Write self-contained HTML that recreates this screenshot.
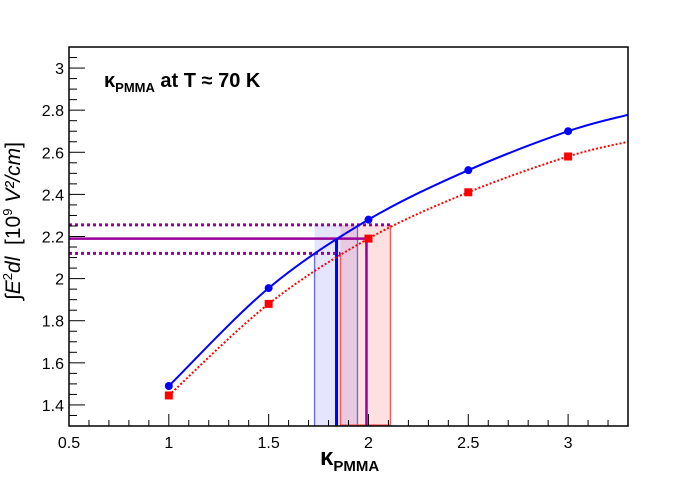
<!DOCTYPE html>
<html><head><meta charset="utf-8"><style>
body{margin:0;background:#fff;}
svg text{font-family:"Liberation Sans",sans-serif;}
</style></head><body>
<svg id="c" width="698" height="475" xmlns="http://www.w3.org/2000/svg"></svg>
<script>
const kappaPoints=[1,1.5,2,2.5,3];
const blueValues=[1.49,1.955,2.28,2.515,2.70];
const redValues=[1.445,1.88,2.19,2.41,2.58];
const curveX=[1,1.5,2,2.5,3,3.3];
const blueCurve=[1.49,1.955,2.28,2.515,2.70,2.778];
const redCurve=[1.445,1.88,2.19,2.41,2.58,2.65];
const measured=[2.12,2.19,2.255];
const blueBand=[1.73,1.84,1.945];
const redBand=[1.86,1.99,2.11];
const xTicks=[0.5,1,1.5,2,2.5,3];
const yTicks=[1.4,1.6,1.8,2,2.2,2.4,2.6,2.8,3];
const X0=69,X1=628,Y0=426,Y1=47,xmin=0.5,xmax=3.3,ymin=1.3,ymax=3.1;
const sx=v=>X0+(v-xmin)/(xmax-xmin)*(X1-X0);
const sy=v=>Y0-(v-ymin)/(ymax-ymin)*(Y0-Y1);
const svg=document.getElementById('c');
function mk(t,a,name){const e=document.createElementNS('http://www.w3.org/2000/svg',t);for(const k in a)e.setAttribute(k,a[k]);


svg.appendChild(e);return e;}
function spline(xs,ys){let p=[];xs.forEach((x,i)=>p.push([sx(x),sy(ys[i])]));let d='M'+p[0][0]+','+p[0][1];
for(let i=0;i<p.length-1;i++){const p0=p[Math.max(0,i-1)],p1=p[i],p2=p[i+1],p3=p[Math.min(p.length-1,i+2)];
d+=' C'+(p1[0]+(p2[0]-p0[0])/6)+','+(p1[1]+(p2[1]-p0[1])/6)+' '+(p2[0]-(p3[0]-p1[0])/6)+','+(p2[1]-(p3[1]-p1[1])/6)+' '+p2[0]+','+p2[1];}return d;}
mk('rect',{x:sx(blueBand[0]),y:sy(measured[2]),width:sx(blueBand[2])-sx(blueBand[0]),height:Y0-sy(measured[2]),fill:'rgba(0,0,255,0.1)',stroke:'none'},'blue-band-fill');
mk('rect',{x:sx(redBand[0]),y:sy(measured[2]),width:sx(redBand[2])-sx(redBand[0]),height:Y0-sy(measured[2]),fill:'rgba(255,0,0,0.12)',stroke:'none'},'red-band-fill');
mk('line',{x1:sx(blueBand[0]),x2:sx(blueBand[0]),y1:Y0,y2:sy(measured[0]),stroke:'#6666ff','stroke-width':1.3},'blue-band-left');
mk('line',{x1:sx(blueBand[2]),x2:sx(blueBand[2]),y1:Y0,y2:sy(measured[2]),stroke:'#6666ff','stroke-width':1.3},'blue-band-right');
mk('line',{x1:sx(redBand[0]),x2:sx(redBand[0]),y1:Y0,y2:sy(measured[0]),stroke:'#ff5555','stroke-width':1.3},'red-band-left');
mk('line',{x1:sx(redBand[2]),x2:sx(redBand[2]),y1:Y0,y2:sy(measured[2]),stroke:'#ff5555','stroke-width':1.3},'red-band-right');
mk('line',{x1:sx(redBand[0]),x2:sx(redBand[2]),y1:Y0-1,y2:Y0-1,stroke:'#ff5555','stroke-width':1.3},'red-band-bottom');
mk('line',{x1:X0,x2:sx(redBand[2]),y1:sy(measured[2]),y2:sy(measured[2]),stroke:'#990099','stroke-width':3,'stroke-dasharray':'3,3'},'upper-limit-line');
mk('line',{x1:X0,x2:sx(redBand[0]),y1:sy(measured[0]),y2:sy(measured[0]),stroke:'#990099','stroke-width':3,'stroke-dasharray':'3,3'},'lower-limit-line');
mk('line',{x1:X0,x2:sx(redBand[1]),y1:sy(measured[1]),y2:sy(measured[1]),stroke:'#990099','stroke-width':2.5},'measured-line');
mk('line',{x1:sx(blueBand[1]),x2:sx(blueBand[1]),y1:Y0,y2:sy(measured[1]),stroke:'#0000ff','stroke-width':3},'blue-kappa-line');
mk('line',{x1:sx(redBand[1]),x2:sx(redBand[1]),y1:Y0,y2:sy(measured[1]),stroke:'#990099','stroke-width':2.5},'red-kappa-line');
mk('path',{d:spline(curveX,blueCurve),fill:'none',stroke:'#0000ff','stroke-width':2},'blue-curve');
mk('path',{d:spline(curveX,redCurve),fill:'none',stroke:'#ff0000','stroke-width':2,'stroke-dasharray':'2,2'},'red-curve');
kappaPoints.forEach((k,i)=>{
mk('circle',{cx:sx(k),cy:sy(blueValues[i]),r:4,fill:'#0000ff'},'blue-point');
mk('rect',{x:sx(k)-4,y:sy(redValues[i])-4,width:8,height:8,fill:'#ff0000'},'red-point');});
mk('rect',{x:X0,y:Y1,width:X1-X0,height:Y0-Y1,fill:'none',stroke:'#000','stroke-width':1.5},'plot-frame');
for(let v=0.5;v<=3.3001;v+=0.1){const big=xTicks.some(t=>Math.abs(t-v)<1e-6);
mk('line',{x1:sx(v),x2:sx(v),y1:Y0,y2:Y0-(big?12:6),stroke:'#000','stroke-width':1},'x-tick');}
for(let v=1.3;v<=3.1001;v+=0.05){const big=yTicks.some(t=>Math.abs(t-v)<1e-6);
mk('line',{x1:X0,x2:X0+(big?16:8),y1:sy(v),y2:sy(v),stroke:'#000','stroke-width':1},'y-tick');}
xTicks.forEach(t=>{const e=mk('text',{x:sx(t),y:Y0+22,'font-size':16,'text-anchor':'middle'},'x-tick-label');e.textContent=String(t);});
yTicks.forEach(t=>{const e=mk('text',{x:X0-5,y:sy(t)+6,'font-size':16,'text-anchor':'end'},'y-tick-label');e.textContent=String(t);});
</script>
<div style="position:absolute;left:0;top:0;width:698px;height:475px;pointer-events:none;font-family:'Liberation Sans',sans-serif;">
<div style="position:absolute;left:104px;top:70px;font-size:20px;font-weight:bold;">κ<sub style="font-size:13px">PMMA</sub> at T ≈ 70 K</div>
<div style="position:absolute;left:320px;top:444px;font-size:24px;font-weight:bold;">κ<sub style="font-size:15px">PMMA</sub></div>
<div style="position:absolute;left:-97px;top:208px;width:220px;text-align:center;font-size:21px;transform:rotate(-90deg);white-space:nowrap;">∫<i>E</i><sup style="font-size:13px">2</sup><i>dl</i> &nbsp;[10<sup style="font-size:13px">9</sup> <i>V²/cm</i>]</div>
</div>
</body></html>
